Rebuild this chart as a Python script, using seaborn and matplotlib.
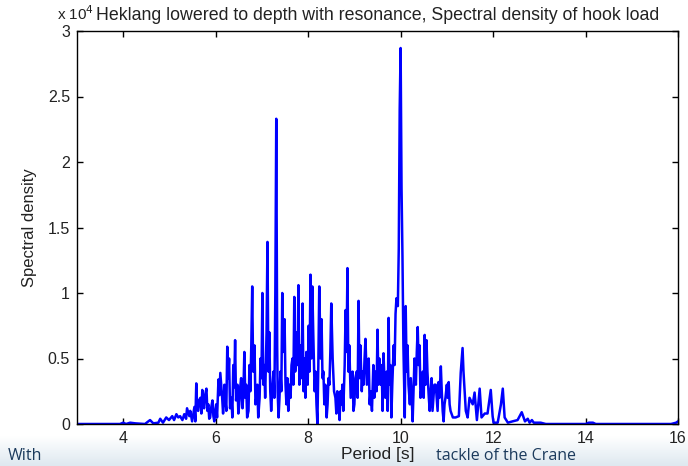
import numpy as np
import pandas as pd
import matplotlib
matplotlib.use("Agg")
import matplotlib.pyplot as plt
import seaborn as sns

# ---- data (period in s, spectral density in units of 1e4) ----
period = [3.00, 3.93, 4.00, 4.06, 4.15, 4.26, 4.47, 4.58, 4.65, 4.76, 4.80, 4.86,
          4.93, 4.99, 5.06, 5.10, 5.15, 5.19, 5.23, 5.28, 5.32, 5.36, 5.38, 5.43,
          5.45, 5.49, 5.54, 5.56, 5.58, 5.60, 5.62, 5.64, 5.67, 5.69, 5.71, 5.73,
          5.75, 5.77, 5.80, 5.82, 5.84, 5.86, 5.88, 5.90, 5.93, 5.95, 5.97, 5.99,
          6.01, 6.03, 6.06, 6.08, 6.10, 6.12, 6.14, 6.16, 6.19, 6.21, 6.23, 6.25,
          6.27, 6.29, 6.31, 6.34, 6.36, 6.38, 6.40, 6.42, 6.44, 6.47, 6.49, 6.51,
          6.53, 6.55, 6.58, 6.60, 6.62, 6.64, 6.66, 6.68, 6.71, 6.73, 6.75, 6.77,
          6.79, 6.81, 6.84, 6.86, 6.88, 6.90, 6.92, 6.95, 6.97, 6.99, 7.01, 7.03,
          7.05, 7.07, 7.10, 7.12, 7.14, 7.16, 7.18, 7.20, 7.23, 7.25, 7.27, 7.29,
          7.31, 7.33, 7.34, 7.36, 7.38, 7.40, 7.42, 7.44, 7.46, 7.49, 7.51, 7.53,
          7.55, 7.57, 7.60, 7.62, 7.64, 7.66, 7.68, 7.70, 7.72, 7.75, 7.77, 7.79,
          7.81, 7.83, 7.86, 7.88, 7.90, 7.92, 7.94, 7.96, 7.99, 8.01, 8.03, 8.05,
          8.07, 8.09, 8.11, 8.14, 8.16, 8.18, 8.20, 8.22, 8.24, 8.27, 8.29, 8.31,
          8.33, 8.35, 8.37, 8.40, 8.42, 8.44, 8.46, 8.48, 8.50, 8.53, 8.56, 8.59,
          8.61, 8.63, 8.66, 8.68, 8.70, 8.72, 8.74, 8.76, 8.79, 8.81, 8.83, 8.85,
          8.87, 8.89, 8.92, 8.96, 8.98, 9.00, 9.02, 9.05, 9.07, 9.09, 9.11, 9.13,
          9.16, 9.18, 9.20, 9.22, 9.24, 9.27, 9.29, 9.31, 9.33, 9.35, 9.38, 9.41,
          9.43, 9.46, 9.48, 9.50, 9.52, 9.54, 9.57, 9.59, 9.61, 9.63, 9.65, 9.67,
          9.70, 9.72, 9.74, 9.76, 9.78, 9.80, 9.82, 9.85, 9.87, 9.89, 9.91, 9.94,
          9.96, 9.98, 10.00, 10.02, 10.04, 10.06, 10.09, 10.11, 10.13, 10.15, 10.17,
          10.20, 10.22, 10.24, 10.26, 10.28, 10.30, 10.33, 10.35, 10.37, 10.39,
          10.41, 10.43, 10.46, 10.48, 10.50, 10.52, 10.54, 10.56, 10.58, 10.61,
          10.63, 10.65, 10.67, 10.69, 10.71, 10.73, 10.76, 10.78, 10.80, 10.82,
          10.84, 10.87, 10.89, 10.91, 10.93, 10.95, 10.97, 11.00, 11.02, 11.04,
          11.06, 11.08, 11.13, 11.19, 11.26, 11.30, 11.34, 11.36, 11.41, 11.45,
          11.49, 11.56, 11.60, 11.65, 11.71, 11.75, 11.82, 11.88, 11.95, 11.99,
          12.01, 12.10, 12.17, 12.21, 12.25, 12.32, 12.42, 12.53, 12.62, 12.69,
          12.75, 12.79, 12.84, 12.88, 13.03, 13.14, 14.01, 14.07, 14.16, 14.22,
          15.85, 15.96, 16.00]
density = [0.00, 0.00, 0.01, 0.00, 0.01, 0.005, 0.00, 0.03, 0.005, 0.01, 0.04, 0.01,
           0.05, 0.03, 0.06, 0.03, 0.075, 0.05, 0.06, 0.03, 0.075, 0.04, 0.12, 0.06,
           0.10, 0.02, 0.13, 0.02, 0.31, 0.12, 0.10, 0.18, 0.20, 0.08, 0.26, 0.14,
           0.12, 0.22, 0.27, 0.10, 0.15, 0.04, 0.05, 0.12, 0.18, 0.06, 0.02, 0.10,
           0.15, 0.05, 0.34, 0.22, 0.39, 0.30, 0.20, 0.08, 0.30, 0.18, 0.10, 0.59,
           0.35, 0.50, 0.12, 0.20, 0.05, 0.45, 0.28, 0.64, 0.18, 0.30, 0.08, 0.15,
           0.28, 0.35, 0.12, 0.25, 0.55, 0.20, 0.30, 0.05, 0.10, 0.45, 0.25, 0.60,
           1.05, 0.40, 0.60, 0.15, 0.20, 0.30, 0.05, 0.20, 0.50, 0.35, 1.00, 0.30,
           0.45, 0.20, 0.70, 1.39, 0.40, 0.70, 0.25, 0.10, 0.30, 0.40, 0.20, 1.00,
           2.33, 0.60, 0.25, 0.05, 0.20, 0.40, 0.25, 1.00, 0.55, 0.80, 0.30, 0.15,
           0.35, 0.10, 0.30, 0.20, 0.45, 0.50, 0.30, 0.97, 0.40, 0.70, 0.45, 1.06,
           0.30, 0.60, 0.35, 0.92, 0.25, 0.50, 0.20, 0.55, 0.30, 0.75, 0.40, 1.14,
           0.50, 1.05, 0.70, 0.25, 0.40, 0.15, 0.00, 0.45, 1.05, 0.50, 0.80, 0.35,
           0.40, 0.15, 0.30, 0.05, 0.15, 0.35, 0.30, 0.55, 0.92, 0.50, 0.25, 0.20,
           0.08, 0.25, 0.15, 0.03, 0.25, 0.15, 0.30, 0.10, 0.45, 0.87, 0.55, 1.19,
           0.40, 0.60, 0.20, 0.40, 0.10, 0.15, 0.35, 0.40, 0.20, 0.94, 0.35, 0.60,
           0.25, 0.40, 0.30, 0.50, 0.65, 0.30, 0.40, 0.50, 0.15, 0.25, 0.10, 0.45,
           0.20, 0.40, 0.25, 0.72, 0.30, 0.50, 0.30, 0.45, 0.10, 0.54, 0.35, 0.20,
           0.40, 0.10, 0.81, 0.30, 0.45, 0.05, 0.30, 0.60, 0.45, 0.84, 0.96, 0.90,
           1.34, 2.40, 2.87, 1.80, 1.28, 0.60, 0.05, 0.90, 0.40, 0.60, 0.30,
           0.15, 0.35, 0.20, 0.02, 0.25, 0.50, 0.30, 0.55, 0.74, 0.45,
           0.60, 0.20, 0.30, 0.40, 0.20, 0.68, 0.30, 0.64, 0.40, 0.20,
           0.10, 0.25, 0.35, 0.10, 0.20, 0.30, 0.30, 0.20, 0.10, 0.32,
           0.20, 0.44, 0.25, 0.10, 0.02, 0.15, 0.20, 0.30, 0.20, 0.32,
           0.15, 0.10, 0.05, 0.05, 0.06, 0.39, 0.58, 0.40, 0.10, 0.05,
           0.20, 0.15, 0.24, 0.03, 0.27, 0.05, 0.08, 0.08, 0.26, 0.06,
           0.01, 0.01, 0.15, 0.27, 0.05, 0.01, 0.02, 0.03, 0.09, 0.02,
           0.04, 0.01, 0.03, 0.01, 0.01, 0.00, 0.00, 0.01, 0.01, 0.00,
           0.00, 0.01, 0.02]

x_ticks = [4, 6, 8, 10, 12, 14, 16]
y_ticks = [0, 0.5, 1, 1.5, 2, 2.5, 3]
y_tick_labels = ["0", "0.5", "1", "1.5", "2", "2.5", "3"]

title = "Heklang lowered to depth with resonance, Spectral density of hook load"
x_label = "Period [s]"
y_label = "Spectral density"

df = pd.DataFrame({"period": period, "density": density})

sns.set_style("ticks")
plt.rcParams["font.family"] = ["Liberation Sans", "DejaVu Sans"]

fig = plt.figure(figsize=(6.88, 4.66), dpi=100)
fig.patch.set_facecolor("white")

# slide banner at the bottom (light gradient)
bax = fig.add_axes([0, 0, 1, 30 / 466], zorder=0)
grad = np.linspace(0, 1, 64).reshape(-1, 1)
top_c = np.array([1.0, 1.0, 1.0])
bot_c = np.array([0.87, 0.91, 0.94])
img = top_c[None, None, :] * (1 - grad[..., None]) + bot_c[None, None, :] * grad[..., None]
img = img[::-1]
bax.imshow(img, aspect="auto", extent=[0, 1, 0, 1], origin="lower")
bax.set_axis_off()

ax = fig.add_axes([77 / 688, 42 / 466, 601 / 688, 393 / 466], zorder=2)
sns.lineplot(data=df, x="period", y="density", estimator=None, sort=False,
             color=(0, 0, 1), linewidth=1.8, ax=ax)

ax.set_xlim(3, 16)
ax.set_ylim(0, 3)
ax.set_xticks(x_ticks)
ax.set_xticklabels([str(t) for t in x_ticks])
ax.set_yticks(y_ticks)
ax.set_yticklabels(y_tick_labels)
ax.tick_params(direction="in", length=4, width=1, top=True, right=True,
               labelsize=11.5, colors="black", labelcolor="#222222", pad=5)
for s in ax.spines.values():
    s.set_linewidth(1.0)
    s.set_color("black")

ax.set_title(title, fontsize=12.8, color="#222222", pad=8)
ax.set_xlabel(x_label, fontsize=12.5, color="#222222", labelpad=1)
ax.set_ylabel(y_label, fontsize=12, color="#222222", labelpad=8)

# MATLAB-style exponent
fig.text(57 / 688, 1 - 20 / 466, r"x 10$^4$", fontsize=11, color="#222222",
         ha="left", va="baseline", zorder=1)

# slide heading text at the bottom
fig.text(8 / 688, 2 / 466, "With", fontsize=11.5, color="#1b3a5c",
         family=["Open Sans", "DejaVu Sans"], ha="left", va="bottom", zorder=1)
fig.text(436 / 688, 2 / 466, "tackle of the Crane", fontsize=11.5, color="#1b3a5c",
         family=["Open Sans", "DejaVu Sans"], ha="left", va="bottom", zorder=1)

fig.savefig("out.png", dpi=100)
